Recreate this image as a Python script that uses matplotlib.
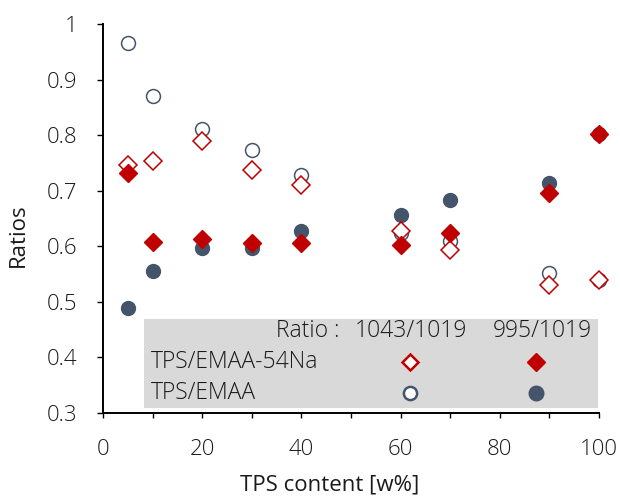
import matplotlib.pyplot as plt
from matplotlib.patches import Rectangle

plt.rcParams['font.family'] = ['Open Sans', 'DejaVu Sans']
plt.rcParams['font.weight'] = 'light'

tps = [5, 10, 20, 30, 40, 60, 70, 90, 100]

# TPS/EMAA
emaa_1043 = [0.966, 0.870, 0.811, 0.774, 0.728, 0.625, 0.610, 0.553, 0.540]
emaa_995 = [0.489, 0.556, 0.598, 0.598, 0.628, 0.656, 0.684, 0.714, 0.803]
# TPS/EMAA-54Na
na_1043 = [0.747, 0.753, 0.789, 0.737, 0.711, 0.628, 0.594, 0.531, 0.540]
na_995 = [0.733, 0.608, 0.613, 0.607, 0.607, 0.602, 0.625, 0.697, 0.803]

red = '#C00000'
navy = '#44546A'
tc = '#1a1a1a'

W, H = 620, 499
fig = plt.figure(figsize=(W / 100, H / 100), dpi=100)
ax = fig.add_axes([103 / W, 1 - 413 / H, 496 / W, 388.7 / H])

ax.plot(tps, emaa_1043, 'o', ms=10, mfc='white', mec=navy, mew=1.1, ls='none', clip_on=False)
ax.plot(tps, emaa_995, 'o', ms=10, mfc=navy, mec=navy, ls='none', clip_on=False)
ax.plot(tps, na_1043, 'D', ms=9.5, mfc='white', mec=red, mew=1.1, ls='none', clip_on=False)
ax.plot(tps, na_995, 'D', ms=9.5, mfc=red, mec=red, ls='none', clip_on=False)

ax.set_xlim(0, 100)
ax.set_ylim(0.3, 1.0)
ax.set_xticks(range(0, 101, 20))
ax.set_xticks(range(0, 101, 10), minor=True)
ax.set_yticks([0.3, 0.4, 0.5, 0.6, 0.7, 0.8, 0.9, 1.0])
ax.set_yticklabels(['0.3', '0.4', '0.5', '0.6', '0.7', '0.8', '0.9', '1'])
ax.tick_params(which='both', direction='out', length=3.8, width=1.0,
               labelsize=16, labelcolor=tc)
ax.tick_params(axis='y', length=4.5, pad=14)
ax.tick_params(axis='x', pad=15)
for s in ['top', 'right']:
    ax.spines[s].set_visible(False)
for s in ['left', 'bottom']:
    ax.spines[s].set_linewidth(1.4)

ax.set_xlabel('TPS content [w%]', fontsize=16, color=tc)
ax.set_ylabel('Ratios', fontsize=16, color=tc)
ax.xaxis.set_label_coords((330 - 103) / 496, (413 - 474) / 388.7)
ax.yaxis.set_label_coords((29 - 103) / 496, (413 - 235) / 388.7)

# table-style legend box
ax.add_patch(Rectangle((0.083, 0.013), 0.915, 0.229, transform=ax.transAxes,
                       facecolor='#D9D9D9', edgecolor='none', zorder=5))

def px(x, y):
    return x / W, 1 - y / H

fs = 16.5
fig.text(*px(340, 331), 'Ratio :', ha='right', va='center', fontsize=fs, color=tc, zorder=6)
fig.text(*px(411, 331), '1043/1019', ha='center', va='center', fontsize=fs, color=tc, zorder=6)
fig.text(*px(542, 331), '995/1019', ha='center', va='center', fontsize=fs, color=tc, zorder=6)
fig.text(*px(151, 362), 'TPS/EMAA-54Na', ha='left', va='center', fontsize=fs, color=tc, zorder=6)
fig.text(*px(151, 393), 'TPS/EMAA', ha='left', va='center', fontsize=fs, color=tc, zorder=6)

lx = [410 / W, 536 / W]
for yy, face, edge, mk, ms in [(362, 'white', red, 'D', 8), (393, 'white', navy, 'o', 9.5)]:
    fig.add_artist(plt.Line2D([lx[0]], [1 - yy / H], marker=mk, ms=ms, mfc=face, mec=edge,
                              mew=1.8, ls='none', transform=fig.transFigure, zorder=7))
    fig.add_artist(plt.Line2D([lx[1]], [1 - yy / H], marker=mk, ms=ms + 1, mfc=edge, mec=edge,
                              ls='none', transform=fig.transFigure, zorder=7))

fig.savefig('out.png', dpi=100)
